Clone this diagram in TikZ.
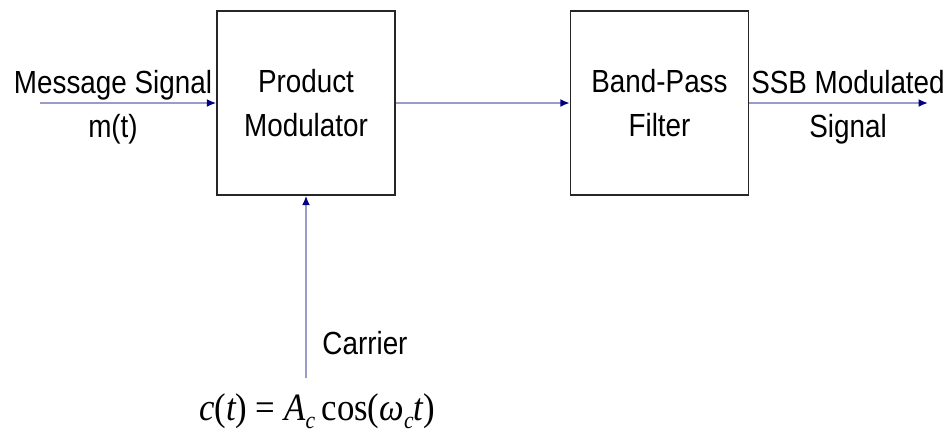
\documentclass[tikz,border=0pt]{standalone}
\usepackage{fontspec}
\setmainfont[FakeStretch=0.87]{Liberation Sans}
\newfontfamily\tnr[FakeStretch=0.9]{Liberation Serif}
\usetikzlibrary{arrows.meta}
\definecolor{wirecol}{RGB}{155,155,200}
\definecolor{tipcol}{RGB}{0,0,128}
\newcommand{\lowsub}[1]{\raisebox{-0.22em}{\fontsize{18}{18}\selectfont #1}}
\tikzset{
  block/.style={draw=black!85, line width=1.1pt, minimum width=133.5pt,
    minimum height=138pt, align=center, font=\fontsize{24}{33}\selectfont},
  wire/.style={draw=wirecol, line width=1.8pt,
    -{Latex[color=tipcol,length=7pt,width=6pt]}},
  lbl/.style={anchor=base, font=\fontsize{24}{33}\selectfont}
}
\begin{document}
\begin{tikzpicture}[x=0.75pt,y=-0.75pt]
\useasboundingbox (0,0) rectangle (950,436);

\node[block] (pm) at (306,103) {Product\\Modulator};
\node[block] (bpf) at (659.5,103) {Band-Pass\\Filter};

\coordinate (in) at (40,103);
\coordinate (out) at (928,103);
\coordinate (car) at (306,378);

\draw[wire] (in) -- (pm);
\draw[wire] (pm) -- (bpf);
\draw[wire] (bpf) -- (out);
\draw[wire] (car) -- (pm);

\node[lbl] (msg) at (113,93) {Message Signal};
\node[lbl] (mt) at (113,137) {m(t)};
\node[lbl] (ssb) at (848,93) {SSB Modulated};
\node[lbl] (sig) at (848,137) {Signal};
\node[lbl] (carlbl) at (365,354) {Carrier};
\node[anchor=base, font=\tnr\fontsize{29}{30}\selectfont] (ct) at (317,420)
  {\itshape c\upshape(\itshape t\upshape) = \itshape A\lowsub{c}\upshape\,cos(\itshape ω\lowsub{c}t\upshape)};
\end{tikzpicture}
\end{document}
